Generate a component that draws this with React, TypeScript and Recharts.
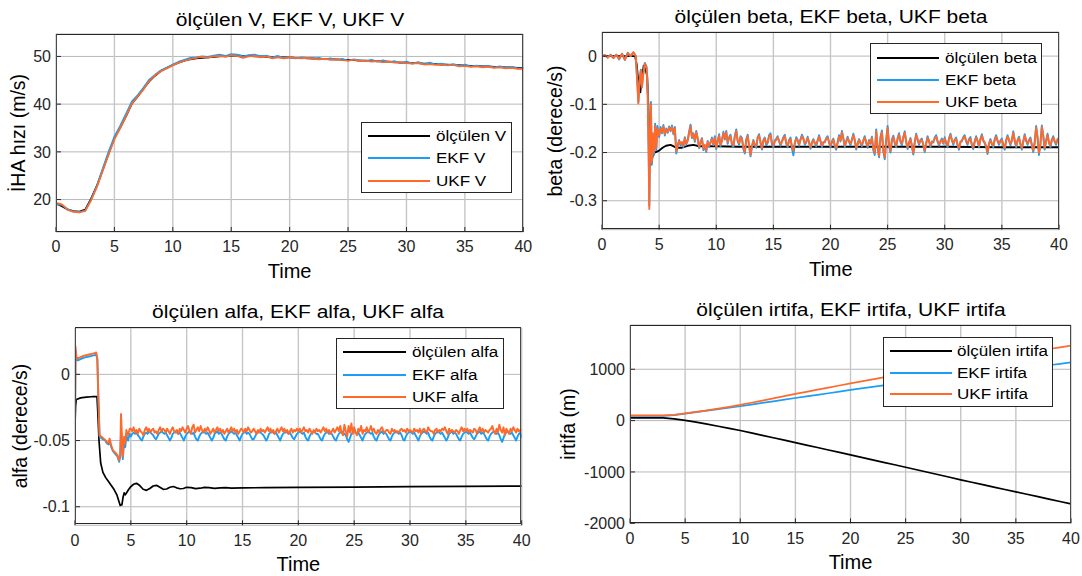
import React from 'react';
import { LineChart, Line, XAxis, YAxis, CartesianGrid } from 'recharts';

// ---------------------------------------------------------------------------
// DATA
// ---------------------------------------------------------------------------

const timeTicks = [0, 5, 10, 15, 20, 25, 30, 35, 40];

// --- speed V (m/s), sampled every 0.5 s from t = 0
const vStep = 0.5;
const vMeasured = [
  19.2, 18.6, 17.9, 17.6, 17.5, 17.9, 20.2, 22.9, 26.2, 29.6,
  32.9, 35.1, 37.5, 40.1, 41.6, 43.3, 44.8, 46.0, 47.0, 47.6,
  48.2, 48.7, 49.1, 49.4, 49.6, 49.7, 49.8, 49.9, 50.0, 50.1,
  50.1, 50.2, 50.1, 50.1, 50.0, 50.0, 49.9, 49.9, 49.9, 49.8,
  49.8, 49.7, 49.7, 49.6, 49.6, 49.5, 49.5, 49.4, 49.4, 49.3,
  49.3, 49.2, 49.1, 49.1, 49.0, 49.0, 48.9, 48.9, 48.8, 48.7,
  48.7, 48.6, 48.6, 48.5, 48.5, 48.4, 48.3, 48.3, 48.2, 48.2,
  48.1, 48.0, 48.0, 47.9, 47.9, 47.8, 47.8, 47.7, 47.7, 47.6,
  47.6,
];
const vEkf = [
  19.0, 18.9, 18.0, 17.5, 17.4, 17.7, 20.0, 22.9, 26.5, 30.0,
  33.2, 35.5, 38.0, 40.6, 41.9, 43.5, 45.2, 46.2, 47.1, 47.7,
  48.3, 48.9, 49.3, 49.7, 49.8, 50.0, 49.9, 50.2, 50.4, 50.1,
  50.5, 50.4, 50.0, 50.3, 50.4, 50.0, 50.2, 49.8, 50.1, 49.7,
  49.9, 49.6, 49.8, 49.7, 49.5, 49.7, 49.4, 49.6, 49.3, 49.5,
  49.1, 49.4, 49.2, 49.0, 49.3, 48.9, 49.2, 48.8, 49.0, 48.6,
  48.9, 48.5, 48.8, 48.4, 48.7, 48.3, 48.5, 48.2, 48.4, 48.1,
  48.3, 47.9, 48.1, 47.8, 48.0, 47.7, 47.9, 47.6, 47.8, 47.5,
  47.5,
];
const vUkf = [
  19.3, 19.0, 17.8, 17.4, 17.3, 17.6, 19.8, 22.6, 26.0, 29.4,
  32.6, 35.0, 37.5, 40.1, 41.6, 43.1, 44.9, 46.1, 46.9, 47.5,
  48.1, 48.7, 49.1, 49.4, 49.7, 49.9, 49.7, 50.0, 50.1, 49.9,
  50.2, 50.1, 49.7, 50.0, 50.1, 49.8, 50.0, 49.6, 49.8, 49.6,
  49.8, 49.7, 49.6, 49.7, 49.5, 49.4, 49.5, 49.3, 49.4, 49.2,
  49.1, 49.3, 49.0, 49.1, 48.9, 49.0, 48.8, 48.9, 48.7, 48.8,
  48.6, 48.5, 48.6, 48.3, 48.4, 48.2, 48.3, 48.1, 48.2, 47.9,
  48.0, 47.8, 47.9, 47.7, 47.8, 47.6, 47.7, 47.5, 47.6, 47.4,
  47.4,
];

// --- beta (derece/s): transient as [t, value], then every 0.125 s from t = 5
const noiseStart = 5;
const noiseStep = 0.125;
const betaMeasured: [number, number][] = [
  [0, 0], [2.9, 0], [3.05, -0.02], [3.2, -0.06], [3.35, -0.075], [3.5, -0.045],
  [3.65, -0.02], [3.8, -0.028], [3.95, -0.04], [4.05, -0.1], [4.15, -0.19],
  [4.3, -0.225], [4.45, -0.205], [4.6, -0.2], [4.8, -0.198], [5.0, -0.196],
  [5.3, -0.19], [5.6, -0.186], [6.0, -0.184], [6.5, -0.19], [7.0, -0.19],
  [7.5, -0.186], [8.0, -0.184], [8.5, -0.187], [9.0, -0.187], [10, -0.187],
  [12, -0.188], [15, -0.188], [20, -0.188], [25, -0.188], [30, -0.188],
  [35, -0.189], [40, -0.189],
];
const betaEkfHead: [number, number][] = [
  [0, 0], [0.25, 0.002], [0.5, -0.003], [0.75, 0.003], [1.0, -0.004], [1.25, 0.003],
  [1.5, -0.007], [1.75, 0.005], [2.0, -0.008], [2.25, 0.007], [2.5, 0.0], [2.75, 0.008],
  [2.95, 0.0], [3.1, -0.055], [3.18, -0.095], [3.3, -0.048], [3.4, -0.028], [3.5, -0.06],
  [3.6, -0.038], [3.75, -0.014], [3.9, -0.022], [4.0, -0.075], [4.08, -0.19], [4.14, -0.31],
  [4.22, -0.16], [4.28, -0.095], [4.36, -0.225], [4.45, -0.17], [4.55, -0.205],
  [4.65, -0.14], [4.75, -0.195], [4.85, -0.145],
];
const betaEkfTail = [
  -0.168, -0.147, -0.160, -0.143, -0.165, -0.150, -0.159, -0.146,
  -0.156, -0.144, -0.162, -0.147, -0.202, -0.187, -0.174, -0.186,
  -0.180, -0.189, -0.168, -0.183, -0.174, -0.157, -0.142, -0.170,
  -0.160, -0.178, -0.155, -0.172, -0.191, -0.178, -0.170, -0.195,
  -0.186, -0.199, -0.176, -0.188, -0.178, -0.169, -0.185, -0.166,
  -0.193, -0.176, -0.162, -0.187, -0.174, -0.157, -0.173, -0.155,
  -0.182, -0.168, -0.163, -0.185, -0.189, -0.165, -0.152, -0.177,
  -0.184, -0.166, -0.170, -0.193, -0.202, -0.173, -0.163, -0.187,
  -0.208, -0.188, -0.174, -0.186, -0.190, -0.168, -0.162, -0.180,
  -0.194, -0.174, -0.169, -0.185, -0.180, -0.164, -0.160, -0.183,
  -0.189, -0.175, -0.172, -0.166, -0.177, -0.186, -0.176, -0.168,
  -0.163, -0.182, -0.189, -0.174, -0.169, -0.191, -0.206, -0.182,
  -0.168, -0.174, -0.186, -0.172, -0.163, -0.170, -0.184, -0.179,
  -0.167, -0.180, -0.192, -0.179, -0.172, -0.181, -0.187, -0.174,
  -0.164, -0.177, -0.189, -0.178, -0.179, -0.170, -0.166, -0.180,
  -0.189, -0.177, -0.171, -0.187, -0.194, -0.178, -0.164, -0.177,
  -0.155, -0.170, -0.189, -0.176, -0.167, -0.178, -0.185, -0.173,
  -0.161, -0.175, -0.194, -0.181, -0.172, -0.181, -0.187, -0.174,
  -0.166, -0.180, -0.190, -0.174, -0.182, -0.167, -0.195, -0.205,
  -0.152, -0.191, -0.210, -0.168, -0.154, -0.198, -0.214, -0.174,
  -0.145, -0.186, -0.200, -0.173, -0.165, -0.181, -0.189, -0.170,
  -0.160, -0.178, -0.185, -0.167, -0.156, -0.179, -0.193, -0.179,
  -0.170, -0.188, -0.204, -0.178, -0.161, -0.174, -0.184, -0.174,
  -0.171, -0.186, -0.199, -0.180, -0.166, -0.177, -0.189, -0.177,
  -0.179, -0.169, -0.164, -0.178, -0.186, -0.176, -0.171, -0.182,
  -0.168, -0.181, -0.189, -0.170, -0.161, -0.175, -0.184, -0.173,
  -0.169, -0.185, -0.194, -0.177, -0.177, -0.168, -0.164, -0.178,
  -0.184, -0.172, -0.168, -0.186, -0.193, -0.176, -0.166, -0.177,
  -0.189, -0.171, -0.162, -0.176, -0.181, -0.189, -0.203, -0.181,
  -0.172, -0.183, -0.189, -0.172, -0.164, -0.177, -0.184, -0.175,
  -0.171, -0.186, -0.194, -0.174, -0.164, -0.175, -0.185, -0.174,
  -0.156, -0.176, -0.189, -0.174, -0.167, -0.183, -0.194, -0.176,
  -0.162, -0.176, -0.184, -0.174, -0.169, -0.186, -0.199, -0.178,
  -0.145, -0.170, -0.205, -0.181, -0.144, -0.167, -0.194, -0.175,
  -0.161, -0.180, -0.189, -0.173, -0.166, -0.178, -0.184, -0.172,
  -0.170,
];
const betaUkfHead: [number, number][] = [
  [0, 0], [0.25, 0.002], [0.5, -0.003], [0.75, 0.002], [1.0, -0.004], [1.25, 0.003],
  [1.5, -0.006], [1.75, 0.005], [2.0, -0.008], [2.25, 0.006], [2.5, 0.0], [2.75, 0.008],
  [2.95, 0.0], [3.1, -0.06], [3.18, -0.098], [3.3, -0.05], [3.4, -0.03], [3.5, -0.065],
  [3.6, -0.04], [3.75, -0.015], [3.9, -0.025], [4.0, -0.08], [4.08, -0.2], [4.14, -0.317],
  [4.22, -0.15], [4.28, -0.1], [4.36, -0.22], [4.45, -0.16], [4.55, -0.2],
  [4.65, -0.145], [4.75, -0.19], [4.85, -0.15],
];
const betaUkfTail = [
  -0.165, -0.150, -0.158, -0.146, -0.162, -0.152, -0.157, -0.149,
  -0.154, -0.147, -0.160, -0.150, -0.198, -0.185, -0.176, -0.183,
  -0.178, -0.186, -0.170, -0.181, -0.176, -0.160, -0.145, -0.168,
  -0.162, -0.175, -0.158, -0.170, -0.188, -0.180, -0.172, -0.192,
  -0.184, -0.196, -0.178, -0.185, -0.180, -0.172, -0.183, -0.169,
  -0.190, -0.178, -0.165, -0.184, -0.176, -0.160, -0.171, -0.158,
  -0.179, -0.170, -0.166, -0.182, -0.186, -0.168, -0.155, -0.175,
  -0.181, -0.168, -0.172, -0.190, -0.199, -0.175, -0.166, -0.184,
  -0.205, -0.186, -0.176, -0.183, -0.187, -0.170, -0.165, -0.178,
  -0.191, -0.176, -0.171, -0.182, -0.178, -0.167, -0.163, -0.180,
  -0.186, -0.177, -0.174, -0.169, -0.175, -0.183, -0.178, -0.171,
  -0.166, -0.179, -0.186, -0.176, -0.172, -0.188, -0.196, -0.180,
  -0.171, -0.176, -0.183, -0.174, -0.166, -0.172, -0.181, -0.177,
  -0.170, -0.178, -0.189, -0.181, -0.174, -0.179, -0.184, -0.176,
  -0.167, -0.175, -0.186, -0.180, -0.177, -0.172, -0.169, -0.178,
  -0.186, -0.179, -0.173, -0.184, -0.191, -0.180, -0.167, -0.175,
  -0.158, -0.172, -0.186, -0.178, -0.170, -0.176, -0.182, -0.175,
  -0.164, -0.173, -0.191, -0.183, -0.174, -0.179, -0.184, -0.176,
  -0.169, -0.178, -0.187, -0.176, -0.180, -0.170, -0.192, -0.201,
  -0.156, -0.188, -0.207, -0.170, -0.158, -0.195, -0.211, -0.176,
  -0.149, -0.183, -0.197, -0.175, -0.168, -0.179, -0.186, -0.172,
  -0.163, -0.176, -0.182, -0.169, -0.159, -0.177, -0.190, -0.181,
  -0.172, -0.185, -0.201, -0.180, -0.164, -0.172, -0.181, -0.176,
  -0.174, -0.183, -0.196, -0.182, -0.169, -0.175, -0.186, -0.179,
  -0.177, -0.171, -0.167, -0.176, -0.183, -0.178, -0.174, -0.180,
  -0.171, -0.179, -0.186, -0.172, -0.164, -0.173, -0.181, -0.175,
  -0.172, -0.183, -0.191, -0.179, -0.175, -0.170, -0.167, -0.176,
  -0.181, -0.174, -0.171, -0.183, -0.190, -0.178, -0.169, -0.175,
  -0.186, -0.173, -0.165, -0.174, -0.179, -0.186, -0.200, -0.183,
  -0.175, -0.181, -0.186, -0.174, -0.167, -0.175, -0.181, -0.177,
  -0.174, -0.183, -0.191, -0.176, -0.167, -0.173, -0.182, -0.176,
  -0.159, -0.174, -0.186, -0.176, -0.170, -0.181, -0.191, -0.178,
  -0.165, -0.174, -0.181, -0.176, -0.172, -0.183, -0.196, -0.180,
  -0.148, -0.168, -0.201, -0.183, -0.147, -0.165, -0.191, -0.177,
  -0.164, -0.178, -0.186, -0.175, -0.169, -0.176, -0.181, -0.174,
  -0.172,
];

// --- alfa (derece/s): transient as [t, value], then every 0.125 s from t = 5
const alfaMeasured: [number, number][] = [
  [0, -0.039], [0.05, -0.024], [0.12, -0.019], [0.5, -0.0178], [1.0, -0.0172],
  [1.5, -0.0169], [1.97, -0.0168], [2.05, -0.03], [2.15, -0.05], [2.3, -0.067],
  [2.5, -0.074], [2.75, -0.078], [3.0, -0.081], [3.25, -0.084], [3.5, -0.087],
  [3.75, -0.091], [3.9, -0.095], [4.05, -0.099], [4.2, -0.0985], [4.3, -0.093],
  [4.4, -0.0895], [4.5, -0.091], [4.65, -0.089], [4.8, -0.087], [5.0, -0.0848],
  [5.25, -0.083], [5.5, -0.0823], [5.8, -0.084], [6.1, -0.0868], [6.4, -0.0876],
  [6.7, -0.0862], [7.0, -0.0843], [7.3, -0.0838], [7.6, -0.0852], [7.9, -0.0868],
  [8.2, -0.0866], [8.5, -0.0853], [8.8, -0.0847], [9.1, -0.0857], [9.4, -0.0864],
  [9.7, -0.0862], [10.0, -0.0853], [10.4, -0.0855], [10.8, -0.0863], [11.2, -0.086],
  [11.6, -0.0853], [12.0, -0.0856], [12.5, -0.0861], [13, -0.0858], [13.5, -0.0855],
  [14, -0.0859], [15, -0.0857], [17, -0.0856], [20, -0.0854], [25, -0.0851],
  [30, -0.0848], [35, -0.0846], [40, -0.0844],
];
const alfaEkfHead: [number, number][] = [
  [0, -0.038], [0.05, 0.018], [0.12, 0.011], [0.25, 0.0105], [0.5, 0.0115],
  [0.75, 0.0125], [1.0, 0.013], [1.25, 0.0135], [1.5, 0.014], [1.75, 0.0145],
  [1.9, 0.015], [2.0, 0.011], [2.1, -0.02], [2.2, -0.047], [2.35, -0.048],
  [2.5, -0.049], [2.7, -0.05], [2.85, -0.052], [3.0, -0.053], [3.1, -0.05],
  [3.25, -0.055], [3.4, -0.058], [3.6, -0.06], [3.8, -0.062], [3.95, -0.066],
  [4.05, -0.062], [4.12, -0.045], [4.2, -0.052], [4.28, -0.064], [4.4, -0.05],
  [4.5, -0.055], [4.6, -0.046], [4.75, -0.05], [4.9, -0.045],
];
const alfaEkfTail = [
  -0.047, -0.045, -0.044, -0.045, -0.044, -0.046, -0.047, -0.049,
  -0.050, -0.047, -0.045, -0.044, -0.045, -0.043, -0.044, -0.045,
  -0.046, -0.048, -0.049, -0.047, -0.045, -0.044, -0.043, -0.044,
  -0.045, -0.044, -0.046, -0.048, -0.050, -0.048, -0.045, -0.044,
  -0.043, -0.044, -0.045, -0.044, -0.046, -0.048, -0.050, -0.047,
  -0.045, -0.044, -0.043, -0.044, -0.045, -0.044, -0.047, -0.049,
  -0.050, -0.047, -0.045, -0.044, -0.043, -0.044, -0.045, -0.044,
  -0.046, -0.048, -0.050, -0.048, -0.045, -0.044, -0.043, -0.045,
  -0.044, -0.045, -0.047, -0.049, -0.050, -0.047, -0.045, -0.044,
  -0.043, -0.044, -0.045, -0.044, -0.046, -0.048, -0.050, -0.047,
  -0.045, -0.044, -0.043, -0.045, -0.044, -0.045, -0.047, -0.049,
  -0.049, -0.047, -0.045, -0.044, -0.043, -0.044, -0.045, -0.046,
  -0.048, -0.050, -0.048, -0.045, -0.044, -0.043, -0.044, -0.045,
  -0.044, -0.046, -0.048, -0.050, -0.047, -0.045, -0.044, -0.043,
  -0.044, -0.045, -0.044, -0.046, -0.048, -0.049, -0.047, -0.045,
  -0.044, -0.043, -0.044, -0.045, -0.044, -0.047, -0.049, -0.050,
  -0.047, -0.045, -0.044, -0.043, -0.044, -0.045, -0.045, -0.047,
  -0.049, -0.050, -0.047, -0.045, -0.044, -0.043, -0.045, -0.044,
  -0.045, -0.047, -0.049, -0.050, -0.047, -0.045, -0.044, -0.043,
  -0.044, -0.045, -0.046, -0.049, -0.051, -0.048, -0.045, -0.044,
  -0.043, -0.044, -0.045, -0.044, -0.046, -0.048, -0.050, -0.047,
  -0.045, -0.044, -0.043, -0.044, -0.045, -0.044, -0.047, -0.049,
  -0.050, -0.047, -0.045, -0.044, -0.043, -0.045, -0.044, -0.045,
  -0.047, -0.049, -0.050, -0.047, -0.045, -0.044, -0.043, -0.044,
  -0.045, -0.044, -0.046, -0.049, -0.050, -0.047, -0.045, -0.044,
  -0.043, -0.044, -0.045, -0.044, -0.046, -0.048, -0.050, -0.047,
  -0.045, -0.044, -0.043, -0.044, -0.045, -0.044, -0.047, -0.049,
  -0.050, -0.047, -0.045, -0.044, -0.043, -0.044, -0.045, -0.044,
  -0.046, -0.048, -0.050, -0.048, -0.045, -0.044, -0.043, -0.045,
  -0.044, -0.045, -0.047, -0.049, -0.050, -0.047, -0.045, -0.044,
  -0.043, -0.044, -0.045, -0.044, -0.046, -0.048, -0.049, -0.047,
  -0.045, -0.044, -0.043, -0.045, -0.044, -0.045, -0.047, -0.049,
  -0.050, -0.047, -0.045, -0.044, -0.043, -0.044, -0.045, -0.044,
  -0.046, -0.049, -0.051, -0.048, -0.045, -0.044, -0.043, -0.044,
  -0.045, -0.044, -0.046, -0.048, -0.050, -0.047, -0.045, -0.044,
  -0.048,
];
const alfaUkfHead: [number, number][] = [
  [0, -0.038], [0.05, 0.021], [0.12, 0.013], [0.25, 0.012], [0.5, 0.013],
  [0.75, 0.014], [1.0, 0.0145], [1.25, 0.015], [1.5, 0.0155], [1.75, 0.016],
  [1.9, 0.0165], [2.0, 0.012], [2.1, -0.02], [2.2, -0.046], [2.35, -0.047],
  [2.5, -0.048], [2.7, -0.0495], [2.85, -0.051], [3.0, -0.052], [3.1, -0.0485],
  [3.25, -0.054], [3.4, -0.0575], [3.6, -0.059], [3.8, -0.061], [3.95, -0.065],
  [4.05, -0.06], [4.12, -0.03], [4.2, -0.045], [4.28, -0.062], [4.4, -0.047],
  [4.5, -0.052], [4.6, -0.042], [4.75, -0.046], [4.9, -0.041],
];
const alfaUkfTail = [
  -0.041, -0.043, -0.040, -0.044, -0.042, -0.045, -0.041, -0.043,
  -0.044, -0.046, -0.042, -0.040, -0.043, -0.041, -0.044, -0.042,
  -0.041, -0.044, -0.043, -0.045, -0.042, -0.040, -0.043, -0.041,
  -0.042, -0.044, -0.041, -0.043, -0.045, -0.042, -0.040, -0.043,
  -0.044, -0.042, -0.045, -0.041, -0.043, -0.040, -0.042, -0.044,
  -0.041, -0.039, -0.043, -0.045, -0.040, -0.038, -0.044, -0.042,
  -0.040, -0.043, -0.039, -0.042, -0.044, -0.041, -0.043, -0.040,
  -0.042, -0.045, -0.043, -0.041, -0.044, -0.042, -0.040, -0.043,
  -0.041, -0.044, -0.042, -0.045, -0.043, -0.041, -0.044, -0.042,
  -0.040, -0.043, -0.041, -0.044, -0.042, -0.045, -0.043, -0.041,
  -0.042, -0.044, -0.041, -0.043, -0.040, -0.042, -0.044, -0.043,
  -0.041, -0.043, -0.045, -0.042, -0.044, -0.041, -0.043, -0.042,
  -0.044, -0.042, -0.040, -0.043, -0.041, -0.044, -0.042, -0.045,
  -0.043, -0.041, -0.044, -0.042, -0.040, -0.043, -0.041, -0.044,
  -0.042, -0.045, -0.043, -0.041, -0.044, -0.042, -0.043, -0.041,
  -0.043, -0.041, -0.044, -0.042, -0.040, -0.043, -0.042, -0.044,
  -0.041, -0.043, -0.045, -0.042, -0.044, -0.041, -0.043, -0.042,
  -0.044, -0.042, -0.040, -0.043, -0.041, -0.044, -0.042, -0.045,
  -0.043, -0.041, -0.044, -0.042, -0.040, -0.043, -0.039, -0.044,
  -0.046, -0.038, -0.043, -0.047, -0.039, -0.044, -0.037, -0.045,
  -0.040, -0.044, -0.046, -0.041, -0.043, -0.039, -0.045, -0.042,
  -0.043, -0.040, -0.044, -0.042, -0.039, -0.043, -0.041, -0.044,
  -0.045, -0.042, -0.044, -0.041, -0.040, -0.043, -0.044, -0.042,
  -0.042, -0.044, -0.045, -0.041, -0.043, -0.042, -0.044, -0.043,
  -0.044, -0.042, -0.041, -0.043, -0.042, -0.044, -0.041, -0.043,
  -0.042, -0.043, -0.044, -0.041, -0.043, -0.042, -0.044, -0.041,
  -0.045, -0.042, -0.041, -0.043, -0.044, -0.040, -0.042, -0.043,
  -0.043, -0.045, -0.042, -0.041, -0.044, -0.042, -0.043, -0.041,
  -0.042, -0.040, -0.043, -0.045, -0.041, -0.044, -0.042, -0.043,
  -0.044, -0.042, -0.043, -0.045, -0.042, -0.040, -0.043, -0.041,
  -0.043, -0.041, -0.044, -0.042, -0.043, -0.044, -0.041, -0.042,
  -0.045, -0.042, -0.040, -0.043, -0.041, -0.044, -0.042, -0.043,
  -0.044, -0.042, -0.041, -0.039, -0.043, -0.045, -0.041, -0.044,
  -0.038, -0.042, -0.044, -0.040, -0.046, -0.041, -0.043, -0.045,
  -0.041, -0.043, -0.040, -0.042, -0.044, -0.041, -0.043, -0.042,
  -0.042,
];

// --- irtifa (m), sampled every 1 s from t = 0
const hStep = 1;
const hMeasured = [
  55, 55, 54, 52, 35, 5, -30, -70, -110, -150,
  -193, -240, -287, -334, -381, -428, -476, -524, -572, -620,
  -668, -716, -764, -812, -860, -908, -957, -1006, -1055, -1104,
  -1153, -1200, -1247, -1294, -1341, -1388, -1435, -1482, -1529, -1576,
  -1622,
];
const hEkf = [
  90, 90, 90, 92, 105, 135, 165, 193, 222, 250,
  280, 312, 344, 376, 408, 440, 471, 502, 533, 565,
  597, 627, 656, 685, 715, 745, 774, 803, 832, 861,
  890, 915, 940, 965, 990, 1015, 1036, 1057, 1078, 1105,
  1135,
];
const hUkf = [
  100, 100, 100, 100, 112, 140, 170, 200, 232, 268,
  305, 347, 389, 432, 476, 520, 561, 602, 643, 684,
  726, 765, 804, 843, 882, 921, 960, 999, 1038, 1077,
  1116, 1153, 1190, 1227, 1263, 1299, 1331, 1363, 1395, 1427,
  1459,
];

// ---------------------------------------------------------------------------
// HELPERS
// ---------------------------------------------------------------------------

type Pt = { t: number; v: number };
const sampled = (vals: number[], t0: number, dt: number): Pt[] =>
  vals.map((v, i) => ({ t: t0 + i * dt, v }));
const fromPairs = (p: [number, number][]): Pt[] => p.map(([t, v]) => ({ t, v }));

const FONT = '"Liberation Sans", Arial, Helvetica, sans-serif';
const INK = '#262626';
const BLACK = '#000000';
const BLUE = '#1B9DF5';
const ORANGE = '#FF6A2B';

type Box = { l: number; t: number; r: number; b: number };
type Series = { name: string; color: string; data: Pt[]; width?: number };
type LegendSpec = { l: number; t: number; r: number; b: number; lx0: number; lx1: number; tx: number; rows: number[] };

interface PanelProps {
  box: Box;
  domain: [number, number];
  ticks: number[];
  series: Series[];
  title: string;
  titleY: number;
  ylabel: string;
  ylabelX: number;
  xlabelY: number;
  legend: LegendSpec;
}

const PAD_L = 70;
const PAD_T = 10;
const PAD_R = 10;
const PAD_B = 35;
const TICK = 5; // MATLAB-style inward tick length
const blank = () => '';

function Panel({ box, domain, ticks, series, title, titleY, ylabel, ylabelX, xlabelY, legend }: PanelProps) {
  const w = box.r - box.l;
  const h = box.b - box.t;
  const cx = (box.l + box.r) / 2;
  const cy = (box.t + box.b) / 2;
  const tickStroke = { stroke: INK, strokeWidth: 1 };

  return (
    <>
      <div style={{ position: 'absolute', left: box.l - PAD_L, top: box.t - PAD_T }}>
        <LineChart
          width={w + PAD_L + PAD_R}
          height={h + PAD_T + PAD_B}
          margin={{ top: PAD_T, right: PAD_R, bottom: 0, left: 0 }}
        >
          <CartesianGrid horizontal vertical={false} stroke="#b8b8b8" />
          <CartesianGrid horizontal={false} vertical stroke="#c6c6c6" strokeWidth={1.4} />
          <XAxis
            type="number"
            dataKey="t"
            domain={[0, 40]}
            ticks={timeTicks}
            allowDataOverflow
            height={PAD_B}
            tickLine={tickStroke}
            axisLine={false}
            tickSize={-TICK}
            tickMargin={9 + TICK}
            tick={{ fontSize: 16, fill: INK }}
          />
          <XAxis
            xAxisId="top"
            orientation="top"
            type="number"
            dataKey="t"
            domain={[0, 40]}
            ticks={timeTicks}
            allowDataOverflow
            height={0}
            tickLine={tickStroke}
            axisLine={false}
            tickSize={-TICK}
            tickFormatter={blank}
          />
          <YAxis
            type="number"
            domain={domain}
            ticks={ticks}
            allowDataOverflow
            width={PAD_L}
            tickLine={tickStroke}
            axisLine={false}
            tickSize={-TICK}
            tickMargin={5 + TICK}
            tick={{ fontSize: 16, fill: INK }}
          />
          <YAxis
            yAxisId="right"
            orientation="right"
            type="number"
            domain={domain}
            ticks={ticks}
            allowDataOverflow
            width={0}
            tickLine={tickStroke}
            axisLine={false}
            tickSize={-TICK}
            tickFormatter={blank}
          />
          {series.map((s) => (
            <Line
              key={s.name}
              data={s.data}
              dataKey="v"
              name={s.name}
              stroke={s.color}
              strokeWidth={s.width ?? 1.7}
              strokeLinejoin="round"
              dot={false}
              activeDot={false}
              isAnimationActive={false}
            />
          ))}
        </LineChart>
      </div>

      {/* axes box */}
      <div
        style={{
          position: 'absolute',
          left: box.l - 0.5,
          top: box.t - 0.5,
          width: w,
          height: h,
          borderTop: `1px solid ${INK}`,
          borderBottom: `1px solid ${INK}`,
          borderLeft: '1.5px solid #4a4a4a',
          borderRight: '1.5px solid #4a4a4a',
          boxSizing: 'border-box',
          pointerEvents: 'none',
        }}
      />

      {/* legend */}
      <div
        style={{
          position: 'absolute',
          left: legend.l,
          top: legend.t,
          width: legend.r - legend.l,
          height: legend.b - legend.t,
          background: '#ffffff',
          border: `1px solid ${INK}`,
          boxSizing: 'border-box',
        }}
      />
      {series.map((s, i) => (
        <React.Fragment key={s.name}>
          <div
            style={{
              position: 'absolute',
              left: legend.lx0,
              top: legend.rows[i] - 1,
              width: legend.lx1 - legend.lx0,
              height: 2,
              background: s.color,
            }}
          />
          <div
            style={{
              position: 'absolute',
              left: legend.tx,
              top: legend.rows[i],
              fontSize: 15.5,
              lineHeight: 1,
              color: '#000',
              whiteSpace: 'nowrap',
              transform: 'translateY(-50%) scaleX(1.1)',
              transformOrigin: 'left center',
            }}
          >
            {s.name}
          </div>
        </React.Fragment>
      ))}

      {/* title */}
      <div
        style={{
          position: 'absolute',
          left: cx,
          top: titleY,
          fontSize: 17.5,
          fontWeight: 400,
          lineHeight: 1,
          color: '#000',
          whiteSpace: 'nowrap',
          transform: 'translate(-50%, -50%) scaleX(1.2)',
        }}
      >
        {title}
      </div>

      {/* x label */}
      <div
        style={{
          position: 'absolute',
          left: cx,
          top: xlabelY,
          fontSize: 20,
          lineHeight: 1,
          color: '#000',
          whiteSpace: 'nowrap',
          transform: 'translate(-50%, -50%)',
        }}
      >
        Time
      </div>

      {/* y label */}
      <div
        style={{
          position: 'absolute',
          left: ylabelX,
          top: cy,
          fontSize: 19.5,
          lineHeight: 1,
          color: '#000',
          whiteSpace: 'nowrap',
          transform: 'translate(-50%, -50%) rotate(-90deg)',
        }}
      >
        {ylabel}
      </div>
    </>
  );
}

// ---------------------------------------------------------------------------
// APP
// ---------------------------------------------------------------------------

export default function App() {
  const vSeries: Series[] = [
    { name: 'ölçülen V', color: BLACK, data: sampled(vMeasured, 0, vStep) },
    { name: 'EKF V', color: BLUE, data: sampled(vEkf, 0, vStep) },
    { name: 'UKF V', color: ORANGE, data: sampled(vUkf, 0, vStep) },
  ];
  const betaSeries: Series[] = [
    { name: 'ölçülen beta', color: BLACK, data: fromPairs(betaMeasured), width: 1.9 },
    {
      name: 'EKF beta',
      color: BLUE,
      width: 1.9,
      data: [...fromPairs(betaEkfHead), ...sampled(betaEkfTail, noiseStart, noiseStep)],
    },
    {
      name: 'UKF beta',
      color: ORANGE,
      width: 1.9,
      data: [...fromPairs(betaUkfHead), ...sampled(betaUkfTail, noiseStart, noiseStep)],
    },
  ];
  const alfaSeries: Series[] = [
    { name: 'ölçülen alfa', color: BLACK, data: fromPairs(alfaMeasured) },
    {
      name: 'EKF alfa',
      color: BLUE,
      width: 1.9,
      data: [...fromPairs(alfaEkfHead), ...sampled(alfaEkfTail, noiseStart, noiseStep)],
    },
    {
      name: 'UKF alfa',
      color: ORANGE,
      width: 1.9,
      data: [...fromPairs(alfaUkfHead), ...sampled(alfaUkfTail, noiseStart, noiseStep)],
    },
  ];
  const hSeries: Series[] = [
    { name: 'ölçülen irtifa', color: BLACK, data: sampled(hMeasured, 0, hStep) },
    { name: 'EKF irtifa', color: BLUE, data: sampled(hEkf, 0, hStep) },
    { name: 'UKF irtifa', color: ORANGE, data: sampled(hUkf, 0, hStep) },
  ];

  return (
    <div
      style={{
        position: 'absolute',
        left: 0,
        top: 0,
        width: 1082,
        height: 576,
        background: '#ffffff',
        fontFamily: FONT,
        overflow: 'hidden',
      }}
    >
      <Panel
        box={{ l: 56, t: 34.3, r: 523.3, b: 232.3 }}
        domain={[13.2, 54.7]}
        ticks={[20, 30, 40, 50]}
        series={vSeries}
        title="ölçülen V, EKF V, UKF V"
        titleY={20.5}
        ylabel="İHA hızı (m/s)"
        ylabelX={19}
        xlabelY={270.5}
        legend={{ l: 361, t: 121.7, r: 512, b: 193.3, lx0: 368, lx1: 430, tx: 436, rows: [136, 158.3, 180.7] }}
      />
      <Panel
        box={{ l: 602.3, t: 32.3, r: 1059.3, b: 230 }}
        domain={[-0.36, 0.05]}
        ticks={[-0.3, -0.2, -0.1, 0]}
        series={betaSeries}
        title="ölçülen beta, EKF beta, UKF beta"
        titleY={17.5}
        ylabel="beta (derece/s)"
        ylabelX={555.6}
        xlabelY={268.5}
        legend={{ l: 870, t: 43.3, r: 1042, b: 114, lx0: 877, lx1: 939, tx: 945, rows: [58.3, 80, 101.7] }}
      />
      <Panel
        box={{ l: 75, t: 327.7, r: 521.7, b: 525 }}
        domain={[-0.114, 0.035]}
        ticks={[-0.1, -0.05, 0]}
        series={alfaSeries}
        title="ölçülen alfa, EKF alfa, UKF alfa"
        titleY={312.7}
        ylabel="alfa (derece/s)"
        ylabelX={20.6}
        xlabelY={564}
        legend={{ l: 336, t: 338.3, r: 504, b: 409, lx0: 343, lx1: 406, tx: 412, rows: [352.3, 375, 396.7] }}
      />
      <Panel
        box={{ l: 630, t: 325, r: 1071, b: 523.3 }}
        domain={[-2000, 1862]}
        ticks={[-2000, -1000, 0, 1000]}
        series={hSeries}
        title="ölçülen irtifa, EKF irtifa, UKF irtifa"
        titleY={310.7}
        ylabel="irtifa (m)"
        ylabelX={569.4}
        xlabelY={561.7}
        legend={{ l: 883.3, t: 336.7, r: 1053.4, b: 407.3, lx0: 890, lx1: 952, tx: 957, rows: [351, 372.7, 394.3] }}
      />
    </div>
  );
}
